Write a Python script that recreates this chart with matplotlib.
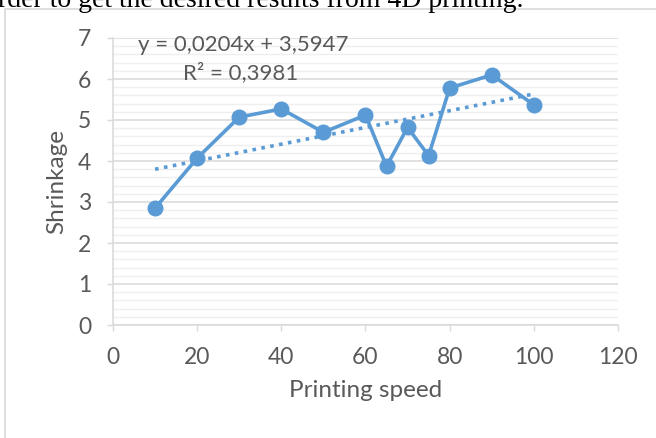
import matplotlib.pyplot as plt
import numpy as np
from matplotlib.patches import Rectangle
from matplotlib.ticker import MultipleLocator

# data
speed = [10, 20, 30, 40, 50, 60, 65, 70, 75, 80, 90, 100]
shrinkage = [2.85, 4.07, 5.07, 5.27, 4.70, 5.12, 3.87, 4.82, 4.13, 5.78, 6.10, 5.37]
trend_slope = 0.0204
trend_intercept = 3.5947
trend_r2 = 0.3981

BLUE = "#5B9BD5"
GREY_TXT = "#595959"
GRID = "#d9d9d9"
MINOR = "#efefef"

plt.rcParams["font.family"] = ["Lato", "DejaVu Sans"]

fig = plt.figure(figsize=(6.56, 4.38), dpi=100)
W, H = 656, 438

# chart frame (cropped at right / bottom) and the page text above it
fig.patches.append(Rectangle((5 / W, -0.1), 1.2, 1.1 - 9 / H, transform=fig.transFigure,
                             fill=False, edgecolor=GRID, linewidth=1.2))
fig.text(-2 / W, 1 - 7 / H, "rder to get the desired results from 4D printing.",
         family=["Liberation Serif", "DejaVu Serif"], fontsize=20, color="black",
         ha="left", va="baseline")

ax = fig.add_axes([113 / W, 1 - 325 / H, 505 / W, 287 / H])

ax.plot(speed, shrinkage, color=BLUE, linewidth=2.6, marker="o", markersize=10.5,
        zorder=3)

tx = np.array([speed[0], speed[-1]])
ax.plot(tx, trend_slope * tx + trend_intercept, color=BLUE, linewidth=2.6,
        linestyle=(0, (1, 1.5)), zorder=2)

ax.text(6, 6.83, f"y = {trend_slope:.4f}x + {trend_intercept:.4f}".replace(".", ","),
        fontsize=16, color=GREY_TXT, ha="left", va="center")
ax.text(16.6, 6.15, f"R² = {trend_r2:.4f}".replace(".", ","),
        fontsize=16, color=GREY_TXT, ha="left", va="center")

ax.set_xlim(0, 120)
ax.set_ylim(0, 7)
ax.xaxis.set_major_locator(MultipleLocator(20))
ax.yaxis.set_major_locator(MultipleLocator(1))
ax.yaxis.set_minor_locator(MultipleLocator(0.2))

ax.grid(True, axis="y", which="major", color=GRID, linewidth=1.1)
ax.grid(True, axis="y", which="minor", color=MINOR, linewidth=1.0)
ax.set_axisbelow(True)

for s in ("top", "right"):
    ax.spines[s].set_visible(False)
for s in ("left", "bottom"):
    ax.spines[s].set_color(GRID)
    ax.spines[s].set_linewidth(1.1)

ax.tick_params(axis="both", which="major", direction="out", length=4.5, width=1.0,
               color=GRID, labelcolor=GREY_TXT, labelsize=16.5)
ax.tick_params(axis="x", pad=11)
ax.tick_params(axis="y", pad=11)
ax.tick_params(axis="y", which="minor", length=0)

ax.set_xlabel("Printing speed", fontsize=17.5, color=GREY_TXT, labelpad=9)
ax.set_ylabel("Shrinkage", fontsize=17.5, color=GREY_TXT, labelpad=8)

fig.savefig("out.png", dpi=100)
